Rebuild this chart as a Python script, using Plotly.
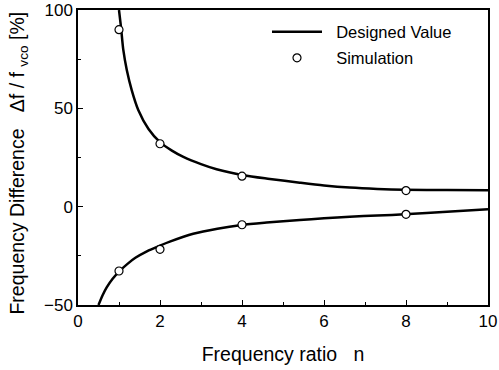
import plotly.graph_objects as go

# Designed value curves
upper_n = [1.0, 1.05, 1.105, 1.19, 1.31, 1.47, 1.72, 2.0, 2.29, 2.57, 3.0, 3.38, 4.03, 4.68, 5.41, 6.0, 6.63, 7.3, 7.96, 9.0, 10.0]
upper_v = [100, 91, 79.7, 69.5, 59.3, 49.2, 39.5, 32.8, 28.5, 25.3, 21.6, 19.0, 16.0, 14.1, 12.2, 10.8, 9.7, 9.0, 8.6, 8.5, 8.4]
lower_n = [0.5, 0.6, 0.7, 0.85, 1.02, 1.2, 1.4, 1.68, 2.0, 2.24, 2.81, 3.4, 3.99, 4.6, 5.41, 6.0, 6.63, 7.3, 7.96, 9.0, 10.0]
lower_v = [-50, -45, -41, -36.5, -32.6, -29.2, -26.0, -22.7, -19.8, -17.8, -13.8, -11.2, -9.3, -8.1, -6.8, -5.9, -5.1, -4.5, -3.9, -2.6, -1.3]

# Simulation points
sim_n = [1, 2, 4, 8]
sim_upper = [90, 32, 15.5, 8.2]
sim_lower = [-32.7, -21.7, -9.2, -3.9]

x_ticks = [0, 2, 4, 6, 8, 10]
y_ticks = [-50, 0, 50, 100]

FONT = "Liberation Sans, Arial, sans-serif"
NB = "\u00a0"

fig = go.Figure()
fig.add_trace(go.Scatter(
    x=upper_n + [None] + lower_n, y=upper_v + [None] + lower_v,
    mode="lines", line=dict(color="black", width=2.5, shape="spline", smoothing=0.8),
    name=NB * 2 + "Designed Value", connectgaps=False, legend="legend"))
fig.add_trace(go.Scatter(
    x=sim_n + [None] + sim_n, y=sim_upper + [None] + sim_lower,
    mode="markers", marker=dict(symbol="circle", size=8, color="white",
                                line=dict(color="black", width=1.2)),
    name=NB * 2 + "Simulation", legend="legend2"))

axis_common = dict(showgrid=False, zeroline=False, showline=True, linecolor="black",
                   linewidth=1.5, mirror=True, ticks="inside", ticklen=5, tickwidth=1,
                   tickcolor="black", tickfont=dict(family=FONT, size=17, color="black"))

leg_common = dict(xanchor="left", yanchor="middle", bgcolor="rgba(0,0,0,0)",
                  font=dict(family=FONT, size=16.5, color="black"), itemwidth=50,
                  borderwidth=0)

fig.update_layout(
    width=499, height=370,
    margin=dict(l=78, r=11, t=10, b=65, autoexpand=False),
    plot_bgcolor="white", paper_bgcolor="white",
    font=dict(family=FONT, color="black"),
    showlegend=True,
    legend=dict(x=(267 - 78) / 410, y=0.925, **leg_common),
    legend2=dict(x=(267 - 78) / 410, y=0.837, **leg_common),
    xaxis=dict(range=[0, 10], tickvals=x_ticks,
               minor=dict(tickvals=[1, 3, 5, 7, 9], ticks="inside", ticklen=3,
                          tickcolor="black"),
               title=dict(text="Frequency ratio" + NB * 3 + "n",
                          font=dict(family=FONT, size=19.5), standoff=17),
               **axis_common),
    yaxis=dict(range=[-50, 100], tickvals=y_ticks,
               minor=dict(tickvals=[-25, 25, 75], ticks="inside", ticklen=3,
                          tickcolor="black"),
               **axis_common),
    annotations=[dict(
        text="Frequency Difference" + NB * 3 + "Δf / f " + "<sub>vco</sub> [%]",
        xref="paper", yref="paper", x=-0.146, y=0.48, xanchor="center", yanchor="middle",
        textangle=-90, showarrow=False, font=dict(family=FONT, size=19.5, color="black"))],
)

fig.write_html("out.html")
